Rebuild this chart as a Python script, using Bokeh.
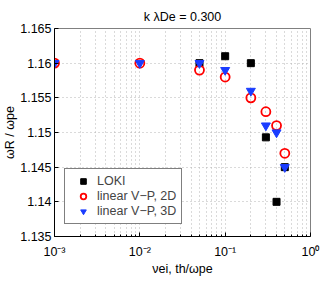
from bokeh.plotting import figure
from bokeh.models import Range1d, FixedTicker, Legend
from bokeh.embed import file_html
from bokeh.resources import INLINE

# ---- data ----
nu_loki = [0.05, 0.1, 0.2, 0.3, 0.4, 0.5]
w_loki = [1.1600, 1.1610, 1.1600, 1.1493, 1.1400, 1.1450]

nu_2d = [0.001, 0.01, 0.05, 0.1, 0.2, 0.3, 0.4, 0.5]
w_2d = [1.1600, 1.1600, 1.1590, 1.1580, 1.1550, 1.1530, 1.1510, 1.1470]

nu_3d = [0.001, 0.01, 0.05, 0.1, 0.2, 0.3, 0.4, 0.5]
w_3d = [1.1600, 1.1600, 1.1600, 1.1590, 1.1560, 1.1510, 1.1500, 1.1450]

legend_labels = ["LOKI", "linear V\u2212P, 2D", "linear V\u2212P, 3D"]

x_ticks = [1e-3, 1e-2, 1e-1, 1.0]
x_tick_labels = ["10\u207b\u00b3", "10\u207b\u00b2", "10\u207b\u00b9", "10\u2070"]
y_ticks = [1.135, 1.14, 1.145, 1.15, 1.155, 1.16, 1.165]
y_tick_labels = ["1.135", "1.14", "1.145", "1.15", "1.155", "1.16", "1.165"]

title_text = "k \u03bbDe = 0.300"
x_label = "\u03bdei, th/\u03c9pe"
y_label = "\u03c9R / \u03c9pe"

FONT = "Liberation Sans"
BLUE = "#1a3cff"
GRID = "#b4b4b4"

p = figure(width=332, height=281, x_axis_type="log",
           x_range=Range1d(1e-3, 1.0), y_range=Range1d(1.135, 1.165),
           output_backend="svg", toolbar_location=None, title=title_text,
           min_border_left=53, min_border_right=22,
           min_border_top=28, min_border_bottom=45)

p.title.text_font = FONT
p.title.text_font_size = "12.5px"
p.title.text_font_style = "normal"
p.title.align = "center"
p.title.standoff = 10
p.title.text_color = "black"

p.background_fill_color = "white"
p.border_fill_color = "white"
p.outline_line_color = "#808080"
p.outline_line_width = 1

minor = [m * 10.0 ** d for d in (-3, -2, -1) for m in range(2, 10)]
xt = FixedTicker(ticks=x_ticks, minor_ticks=minor)
yt = FixedTicker(ticks=y_ticks, minor_ticks=[])
p.xaxis.ticker = xt
p.yaxis.ticker = yt
p.xgrid.ticker = xt
p.ygrid.ticker = yt

for ax in (p.xaxis, p.yaxis):
    ax.axis_line_color = "black"
    ax.major_tick_in = 4
    ax.major_tick_out = 0
    ax.minor_tick_in = 2
    ax.minor_tick_out = 0
    ax.major_tick_line_color = "black"
    ax.minor_tick_line_color = "black"
    ax.major_label_text_font = FONT
    ax.major_label_text_font_size = "12.5px"
    ax.major_label_text_color = "black"
    ax.axis_label_text_font = FONT
    ax.axis_label_text_font_size = "12.5px"
    ax.axis_label_text_font_style = "normal"
    ax.axis_label_text_color = "black"
    ax.axis_label_standoff = 0

p.xaxis.major_label_overrides = dict(zip(x_ticks, x_tick_labels))
p.xaxis.major_label_standoff = 8
p.xaxis.axis_label = x_label
p.yaxis.major_label_overrides = dict(zip(y_ticks, y_tick_labels))
p.yaxis.major_label_standoff = 3
p.yaxis.axis_label = y_label

p.xgrid.grid_line_color = GRID
p.xgrid.grid_line_dash = "1 3"
p.xgrid.minor_grid_line_color = GRID
p.xgrid.minor_grid_line_dash = "1 3"
p.ygrid.grid_line_color = GRID
p.ygrid.grid_line_dash = "1 3"

r1 = p.scatter(nu_loki, w_loki, marker="square", size=7,
               fill_color="black", line_color="black")
r2 = p.scatter(nu_2d, w_2d, marker="circle", size=9, fill_color=None,
               line_color="red", line_width=1.8)
r3 = p.scatter(nu_3d, w_3d, marker="inverted_triangle", size=9,
               fill_color=BLUE, line_color=BLUE)

legend = Legend(items=[(legend_labels[0], [r1]),
                       (legend_labels[1], [r2]),
                       (legend_labels[2], [r3])],
                location=(10, 12))
legend.label_text_font = FONT
legend.label_text_font_size = "12.5px"
legend.glyph_width = 26
legend.glyph_height = 14
legend.label_height = 14
legend.label_standoff = 1
legend.padding = 5
legend.spacing = 1
legend.margin = 0
legend.border_line_color = "black"
legend.border_line_width = 1
legend.background_fill_color = "white"
legend.background_fill_alpha = 1.0
p.add_layout(legend)

open("out.html", "w").write(file_html(p, INLINE))
